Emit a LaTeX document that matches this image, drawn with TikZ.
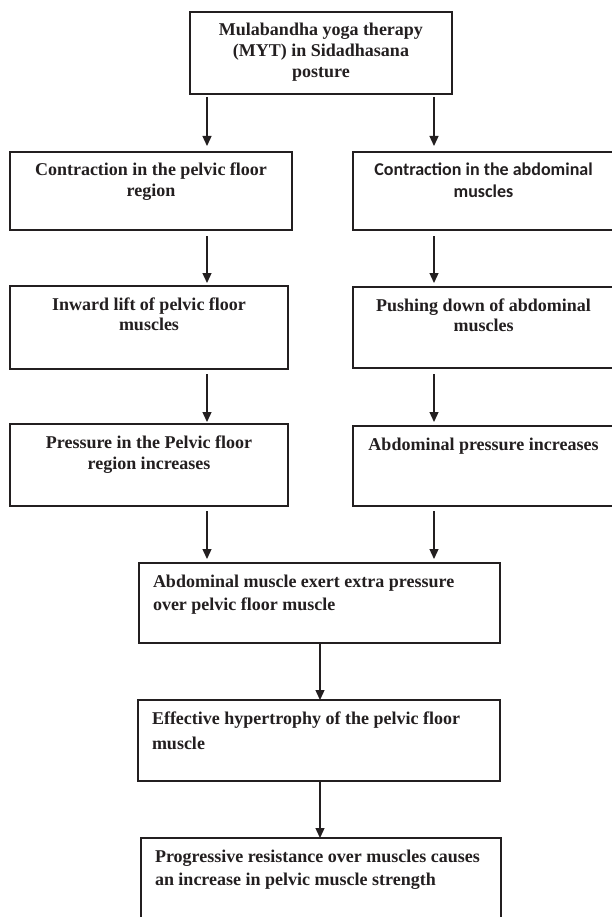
\documentclass[tikz,border=0pt]{standalone}
\usepackage{fontspec}
\setmainfont{Liberation Serif}
\newfontfamily\calibrifont{Carlito}
\usetikzlibrary{arrows.meta}
\definecolor{ink}{HTML}{231F20}
\newcommand\boxc[4]{\parbox[c][#2][t]{#1}{\centering\fontsize{18}{#3}\selectfont\bfseries\rule{0pt}{24pt}#4}}
\newcommand\boxl[4]{\parbox[c][#2][t]{#1}{\raggedright\leftskip=14pt\fontsize{18}{#3}\selectfont\bfseries\rule{0pt}{24pt}#4}}
\begin{document}
\begin{tikzpicture}[x=1pt,y=-1pt,
  box/.style={draw=ink, line width=1.2pt, inner sep=0pt, outer sep=0pt, anchor=north west, text=ink},
  arr/.style={draw=ink, line width=1.3pt, -{Triangle[length=10pt,width=9pt]}, shorten <=5pt, shorten >=4pt},
  arrtouch/.style={draw=ink, line width=1.3pt, -{Triangle[length=10pt,width=9pt]}}
]
\fill[white] (0,0) rectangle (612,917);
\useasboundingbox (0,0) rectangle (612,917);

\node[box] (top) at (190,12) {\boxc{262pt}{82pt}{21pt}{Mulabandha yoga therapy\\(MYT) in Sidadhasana\\posture}};

\node[box] (c1L) at (10,152) {\boxc{282pt}{78pt}{21pt}{Contraction in the pelvic floor\\region}};
\node[box] (c1R) at (353,152) {\boxc{261pt}{78pt}{22pt}{\calibrifont Contraction in the abdominal\\muscles}};

\node[box] (c2L) at (10,286) {\boxc{278pt}{83pt}{20.5pt}{Inward lift of pelvic floor\\muscles}};
\node[box] (c2R) at (353,287) {\boxc{261pt}{81pt}{20.5pt}{Pushing down of abdominal\\muscles}};

\node[box] (c3L) at (10,424) {\boxc{278pt}{82pt}{21pt}{Pressure in the Pelvic floor\\region increases}};
\node[box] (c3R) at (353,426) {\boxc{261pt}{80pt}{21pt}{\rule{0pt}{23pt}Abdominal pressure increases}};

\node[box] (merge) at (139,563) {\boxl{361pt}{80pt}{23pt}{Abdominal muscle exert extra pressure\\over pelvic floor muscle}};
\node[box] (eff) at (138,700) {\boxl{362pt}{81pt}{25pt}{Effective hypertrophy of the pelvic floor\\muscle}};
\node[box] (prog) at (141,838) {\boxl{360pt}{95pt}{23pt}{Progressive resistance over muscles causes\\an increase in pelvic muscle strength}};

\coordinate (xl) at (207,0);
\coordinate (xr) at (434,0);
\coordinate (xm) at (320,0);

\draw[arr, shorten <=3pt, shorten >=6pt] (top.south -| xl) -- (c1L.north -| xl);
\draw[arr, shorten <=3pt, shorten >=6pt] (top.south -| xr) -- (c1R.north -| xr);
\draw[arr, shorten <=6pt, shorten >=3pt] (c1L.south -| xl) -- (c2L.north -| xl);
\draw[arr, shorten <=6pt, shorten >=4pt] (c1R.south -| xr) -- (c2R.north -| xr);
\draw[arr, shorten <=5pt, shorten >=2pt] (c2L.south -| xl) -- (c3L.north -| xl);
\draw[arr, shorten <=6pt, shorten >=4pt] (c2R.south -| xr) -- (c3R.north -| xr);
\draw[arr, shorten <=5pt, shorten >=4pt] (c3L.south -| xl) -- (merge.north -| xl);
\draw[arr, shorten <=5pt, shorten >=4pt] (c3R.south -| xr) -- (merge.north -| xr);
\draw[arrtouch] (merge.south -| xm) -- (eff.north -| xm);
\draw[arrtouch] (eff.south -| xm) -- (prog.north -| xm);
\end{tikzpicture}
\end{document}
